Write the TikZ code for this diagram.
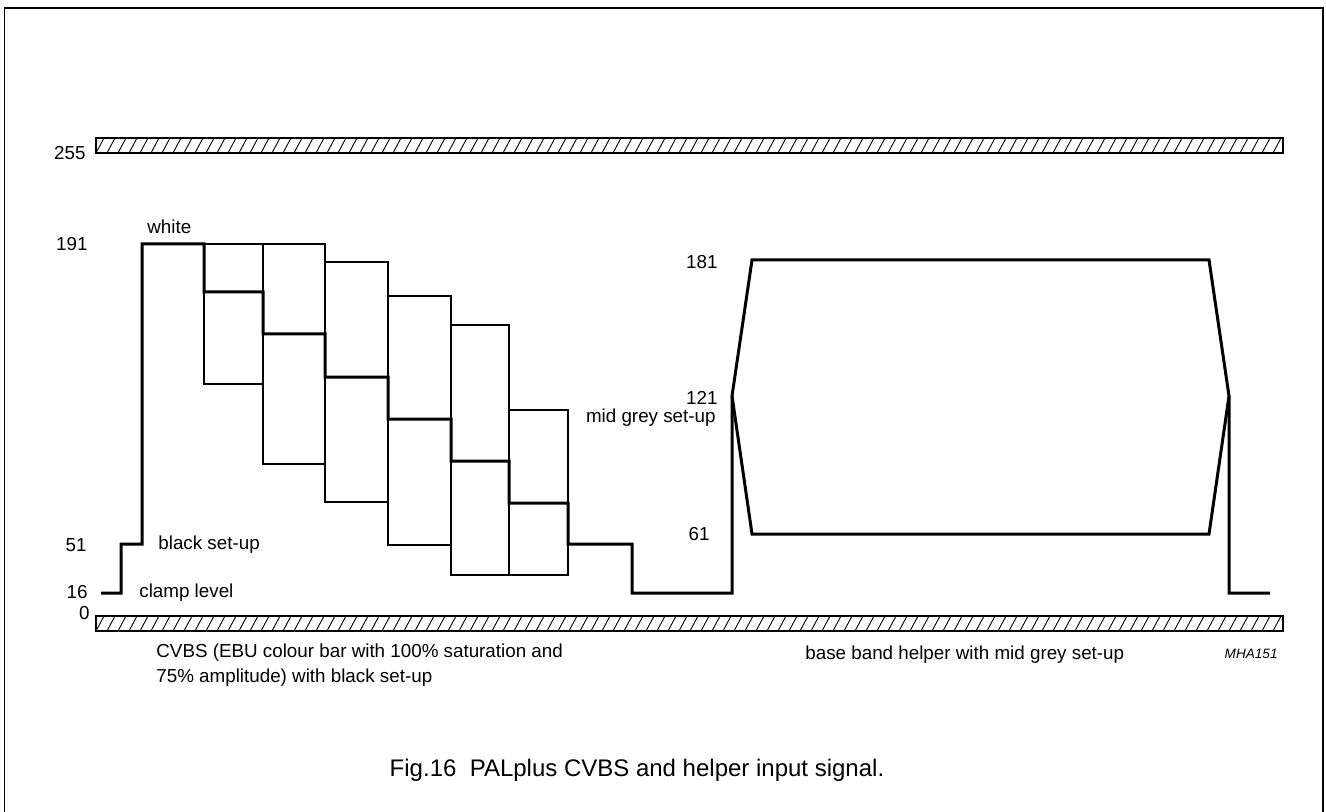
\documentclass[tikz,border=0pt]{standalone}
\usepackage{fontspec}
\setmainfont{Liberation Sans}
\usetikzlibrary{positioning}

\tikzset{
	lbl/.style = {font=\fontsize{9.4}{12.5}\selectfont, inner sep=0pt},
	signal/.style = {line width=1.5pt, line join=miter},
	barbox/.style = {line width=0.65pt},
	hatch/.style = {line width=0.45pt},
	colbox/.style = {line width=0.6pt}
}

\begin{document}
\begin{tikzpicture}[x=0.5pt, y=-0.5pt]
	\useasboundingbox (0,0) rectangle (1326,812);
	% frame
	\draw[line width=0.65pt] (4.5,812) -- (4.5,8) -- (1323,8) -- (1323,812);
	
	% hatched limits 255 and 0
	\foreach \yb in {138,616} {
		\draw[barbox] (96,\yb) rectangle (1283,\yb+15);
		\foreach \xh in {96,107,...,1274}
			\draw[hatch] (\xh,\yb+15) -- (\xh+8,\yb);
	}
	
	% colour bar boxes
	\foreach \xa/\xb/\ya/\yb in {204/263/244/384, 263/325/244/464, 325/388/262/502,
		388/451/296/545, 451/509/325/575, 509/568/410/575}
		\draw[colbox] (\xa,\ya) rectangle (\xb,\yb);
	
	% CVBS and helper signal
	\draw[signal] (101,593) -- (121,593) -- (121,544) -- (142,544) -- (142,244)
		-- (204,244) -- (204,292) -- (263,292) -- (263,334) -- (325,334)
		-- (325,377) -- (388,377) -- (388,419) -- (451,419) -- (451,461)
		-- (509,461) -- (509,503) -- (568,503) -- (568,544) -- (632,544)
		-- (632,593) -- (732,593) -- (732,396) -- (752,260) -- (1209,260)
		-- (1229,396) -- (1229,593) -- (1270,593);
	\draw[signal] (732,396) -- (752,534) -- (1209,534) -- (1229,396);
	
	% levels
	\node[lbl, anchor=east] (l255) at (86,153) {255};
	\node[lbl, anchor=east] (l191) at (88,244) {191};
	\node[lbl, anchor=east] (l51) at (87,545) {51};
	\node[lbl, anchor=east] (l16) at (88,592) {16};
	\node[lbl, anchor=east] (l0) at (90,613) {0};
	\node[lbl, anchor=west] (white) at (147,227) {white};
	\node[lbl, anchor=west] (black) at (158,545) {black set-up};
	\node[lbl, anchor=west] (clamp) at (139,593) {clamp level};
	\node[lbl, anchor=east] (l181) at (718,262) {181};
	\node[lbl, anchor=east] (l121) at (718,398) {121};
	\node[lbl, anchor=east] (midgrey) at (716,418) {mid grey set-up};
	\node[lbl, anchor=east] (l61) at (710,534) {61};
	
	% captions
	\node[lbl, anchor=west, align=left] (cvbs) at (156,665.5)
		{CVBS (EBU colour bar with 100\% saturation and\\75\% amplitude) with black set-up};
	\node[lbl, anchor=west] (helper) at (805,655) {base band helper with mid grey set-up};
	\node[inner sep=0pt, anchor=east, font=\fontsize{6.8}{8}\selectfont\itshape] (code) at (1278,654) {MHA151};
	\node[inner sep=0pt, font=\fontsize{12}{14}\selectfont] (fig) at (637,770)
		{Fig.16~~PALplus CVBS and helper input signal.};
\end{tikzpicture}
\end{document}
